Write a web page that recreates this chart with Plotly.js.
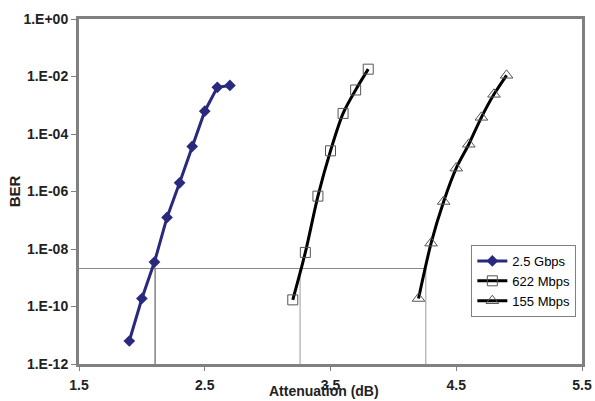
<!DOCTYPE html>
<html>
<head>
<meta charset="utf-8">
<script src="https://cdn.plot.ly/plotly-3.0.1.min.js"></script>
<style>html,body{margin:0;padding:0;background:#fff;}#chart{width:595px;height:401px;}</style>
</head>
<body>
<div id="chart"></div>
<script>
// Series: attenuation (dB) and BER
const atten25G = [1.9, 2.0, 2.1, 2.2, 2.3, 2.4, 2.5, 2.6, 2.7];
const ber25G = [6.3e-12, 1.9e-10, 3.5e-9, 1.25e-7, 2.0e-6, 3.7e-5, 6.2e-4, 4.2e-3, 4.9e-3];

const atten622M = [3.2, 3.3, 3.4, 3.5, 3.6, 3.7, 3.8];
const ber622M = [1.7e-10, 7.6e-9, 6.9e-7, 2.6e-5, 5.2e-4, 3.4e-3, 1.8e-2];

const atten155M = [4.2, 4.3, 4.4, 4.5, 4.6, 4.7, 4.8, 4.9];
const ber155M = [1.9e-10, 1.6e-8, 4.5e-7, 6.5e-6, 4.4e-5, 3.8e-4, 2.4e-3, 1.1e-2];

const seriesNames = ['2.5 Gbps', '622 Mbps', '155 Mbps'];

// Reference (sensitivity) lines
const refBER = 2.1e-9;
const refAtten = [2.105, 3.258, 4.258];
const berMin = 1e-12;

// Axis ticks
const yTickVals = [1, 1e-2, 1e-4, 1e-6, 1e-8, 1e-10, 1e-12];
const yTickText = ['1.E+00', '1.E-02', '1.E-04', '1.E-06', '1.E-08', '1.E-10', '1.E-12'];
const xTickVals = [1.5, 2.5, 3.5, 4.5, 5.5];

const FONT = 'Arial, "Liberation Sans", sans-serif';

const traces = [];
// horizontal reference line
traces.push({x: [1.5, refAtten[2]], y: [refBER, refBER], mode: 'lines',
  line: {color: '#8a8a8a', width: 1}, showlegend: false, hoverinfo: 'skip'});
// vertical reference lines
const vColors = ['#444444', '#9a9a9a', '#9a9a9a'];
refAtten.forEach((a, i) => {
  traces.push({x: [a, a], y: [berMin, refBER], mode: 'lines',
    line: {color: vColors[i], width: 1}, showlegend: false, hoverinfo: 'skip'});
});

traces.push({x: atten25G, y: ber25G, name: seriesNames[0], mode: 'lines+markers',
  line: {color: '#29297e', width: 3},
  marker: {symbol: 'diamond', size: 9, color: '#29297e'}});
traces.push({x: atten622M, y: ber622M, name: seriesNames[1], mode: 'lines+markers',
  line: {color: '#000000', width: 3, shape: 'spline', smoothing: 0.8},
  marker: {symbol: 'square-open', size: 10, color: '#555555', line: {width: 1, color: '#555555'}}});
traces.push({x: atten155M, y: ber155M, name: seriesNames[2], mode: 'lines+markers',
  line: {color: '#000000', width: 3, shape: 'spline', smoothing: 0.8},
  marker: {symbol: 'triangle-up-open', size: 11, color: '#555555', line: {width: 1, color: '#555555'}}});

const layout = {
  width: 595, height: 401,
  margin: {l: 78.5, r: 12.5, t: 19, b: 37, pad: 0},
  paper_bgcolor: '#ffffff', plot_bgcolor: '#ffffff',
  font: {family: FONT, color: '#000'},
  showlegend: true,
  legend: {x: 0.78, y: 0.345, xanchor: 'left', yanchor: 'top',
    bgcolor: '#ffffff', bordercolor: '#808080', borderwidth: 1,
    font: {family: FONT, size: 13, color: '#000'}, itemwidth: 30, tracegroupgap: 0},
  xaxis: {range: [1.5, 5.5], tickvals: xTickVals, ticktext: xTickVals.map(v => v.toFixed(1)),
    showgrid: false, zeroline: false, showline: true, linecolor: '#808080', linewidth: 3, mirror: true,
    ticks: 'outside', ticklen: 4, tickcolor: '#808080', tickwidth: 1,
    ticklabelstandoff: 2,
    tickfont: {family: FONT, size: 14, weight: 'bold', color: '#222'}},
  yaxis: {type: 'log', range: [-12, 0], tickvals: yTickVals, ticktext: yTickText,
    showgrid: false, zeroline: false, showline: true, linecolor: '#808080', linewidth: 3, mirror: true,
    ticks: 'outside', ticklen: 5, tickcolor: '#808080', tickwidth: 1,
    tickfont: {family: FONT, size: 14, weight: 'bold', color: '#222'},
    title: {text: 'BER', standoff: 0, font: {family: FONT, size: 15, weight: 'bold', color: '#222'}}},
  annotations: [{text: 'Attenuation (dB)', xref: 'paper', yref: 'paper', x: 0.487, y: -0.1043,
    xanchor: 'center', yanchor: 'bottom', showarrow: false, borderpad: 0,
    font: {family: FONT, size: 14, weight: 'bold', color: '#222'}}]
};

Plotly.newPlot('chart', traces, layout, {displayModeBar: false, staticPlot: true});
</script>
</body>
</html>
